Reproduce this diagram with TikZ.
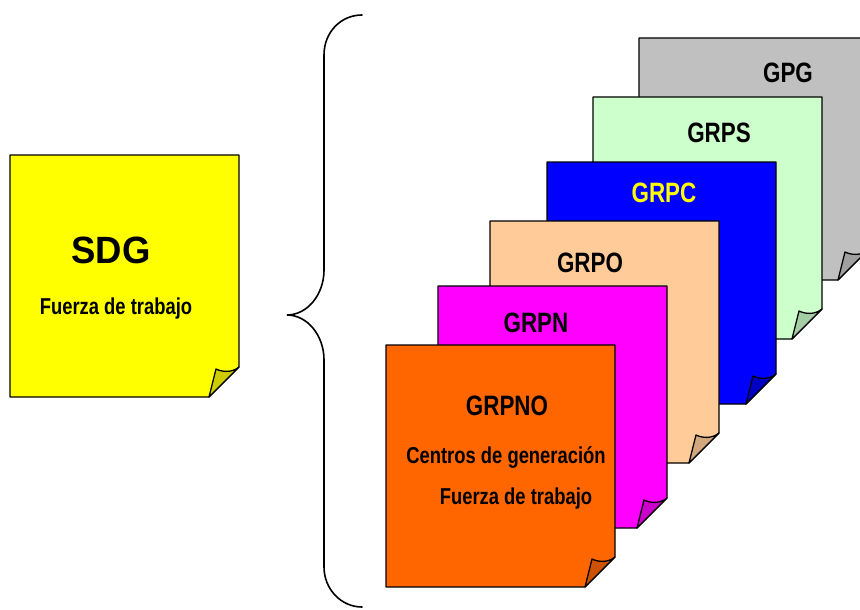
\documentclass[tikz,border=0pt]{standalone}
\usepackage{fontspec}
\setmainfont{Liberation Sans}
\newfontfamily\narrowsans{Liberation Sans}[FakeStretch=0.8]
\newfontfamily\widesans{Liberation Sans}[FakeStretch=0.96]

\definecolor{sdgyellow}{RGB}{255,255,0}
\definecolor{sdgfold}{RGB}{204,204,0}
\definecolor{noorange}{RGB}{255,102,0}
\definecolor{nofold}{RGB}{204,82,0}
\definecolor{nmagenta}{RGB}{255,0,255}
\definecolor{nfold}{RGB}{204,0,204}
\definecolor{opeach}{RGB}{255,204,153}
\definecolor{ofold}{RGB}{212,168,126}
\definecolor{cblue}{RGB}{0,0,255}
\definecolor{cfold}{RGB}{0,0,196}
\definecolor{sgreen}{RGB}{204,255,204}
\definecolor{sfold}{RGB}{166,206,166}
\definecolor{ggray}{RGB}{192,192,192}
\definecolor{gfold}{RGB}{160,160,160}
\definecolor{ctitle}{RGB}{255,255,0}

\tikzset{
  noteedge/.style={draw=black,line width=1.3pt,line join=round},
  title/.style={anchor=base,inner sep=0pt,font=\narrowsans\bfseries\fontsize{28}{30}\selectfont},
  subtitle/.style={anchor=base,inner sep=0pt,font=\narrowsans\bfseries\fontsize{23}{25}\selectfont},
  bigtitle/.style={anchor=base,inner sep=0pt,font=\widesans\bfseries\fontsize{38}{40}\selectfont},
  bracestroke/.style={draw=black,line width=1.6pt,line cap=round}
}

% sticky note with a curled lower-right corner: top-left x, top-left y, fill, curl fill
\newcommand\stickynote[4]{%
  \begin{scope}[shift={(#1,#2)}]
    \filldraw[noteedge,fill=#3] (0,0) -- (229,0) -- (229,212) -- (199,242) -- (0,242) -- cycle;
    \filldraw[noteedge,fill=#4] (229,212) .. controls (222,218) and (212,217) .. (206,214) -- (199,242) -- cycle;
  \end{scope}}

\begin{document}
\begin{tikzpicture}[x=1pt,y=-1pt]
  \clip (0,0) rectangle (860,610);
  \fill[white] (0,0) rectangle (860,610);

  % left note
  \stickynote{10}{155}{sdgyellow}{sdgfold}
  \node[bigtitle] (sdg) at (111,263) {SDG};
  \node[subtitle] (sdgsub) at (116,314) {Fuerza de trabajo};

  % brace
  \draw[bracestroke] (362,15) .. controls (341,15) and (324,32) .. (324,55)
    -- (324,270) .. controls (324,295) and (307,315) .. (287,315)
    .. controls (307,315) and (324,335) .. (324,360)
    -- (324,567) .. controls (324,589) and (341,607) .. (362,607);

  % stack of notes, back to front
  \stickynote{639}{38}{ggray}{gfold}
  \node[title] (gpg) at (788,83) {GPG};

  \stickynote{593}{97}{sgreen}{sfold}
  \node[title] (grps) at (719,142) {GRPS};

  \stickynote{547}{162}{cblue}{cfold}
  \node[title,text=ctitle] (grpc) at (664,202) {GRPC};

  \stickynote{490}{221}{opeach}{ofold}
  \node[title] (grpo) at (590,272) {GRPO};

  \stickynote{438}{286}{nmagenta}{nfold}
  \node[title] (grpn) at (536,332) {GRPN};

  \stickynote{386}{345}{noorange}{nofold}
  \node[title] (grpno) at (507,415) {GRPNO};
  \node[subtitle] (centros) at (506,463) {Centros de generación};
  \node[subtitle] (fuerza) at (516,504) {Fuerza de trabajo};
\end{tikzpicture}
\end{document}
